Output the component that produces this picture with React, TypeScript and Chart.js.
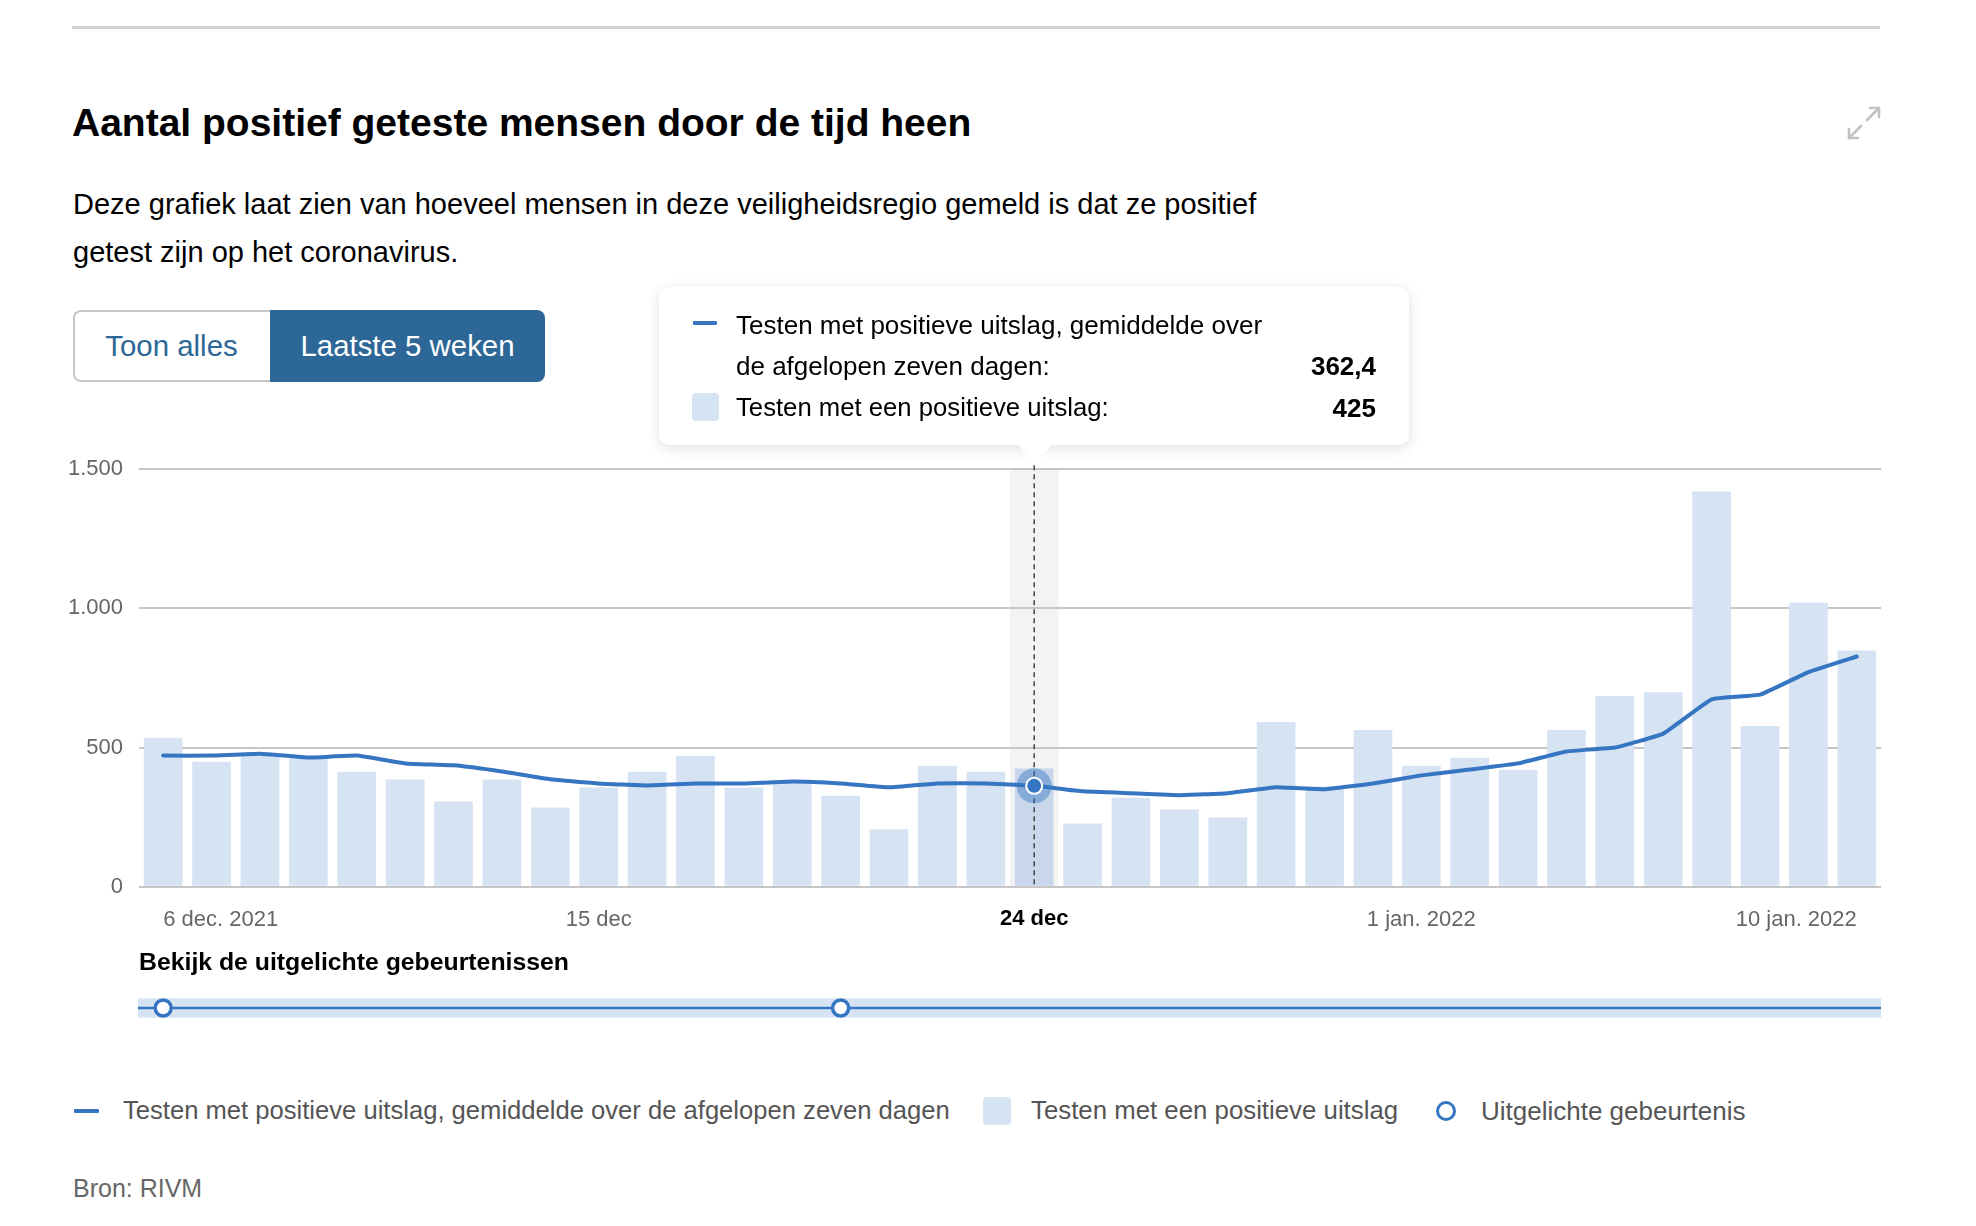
import React, { useEffect, useRef } from 'react';
import { Chart, registerables } from 'chart.js';

Chart.register(...registerables);

// ---------- data ----------
const categories = [
  '6 dec', '7 dec', '8 dec', '9 dec', '10 dec', '11 dec', '12 dec', '13 dec', '14 dec', '15 dec',
  '16 dec', '17 dec', '18 dec', '19 dec', '20 dec', '21 dec', '22 dec', '23 dec', '24 dec', '25 dec',
  '26 dec', '27 dec', '28 dec', '29 dec', '30 dec', '31 dec', '1 jan', '2 jan', '3 jan', '4 jan',
  '5 jan', '6 jan', '7 jan', '8 jan', '9 jan', '10 jan',
];

const positives = [
  535, 449, 475, 462, 413, 385, 306, 385, 285, 356,
  413, 470, 356, 375, 327, 206, 435, 413, 425, 227,
  320, 277, 249, 592, 360, 563, 435, 463, 420, 563,
  685, 699, 1420, 577, 1020, 849,
];

const averages = [
  471, 471, 478, 464, 471, 443, 436, 414, 386, 371,
  364, 371, 371, 378, 371, 357, 371, 371, 362.4, 343,
  336, 329, 336, 357, 350, 371, 400, 421, 443, 486,
  500, 550, 673, 690, 771, 827,
];

const xTickIndices = [0, 9, 18, 26, 35];
const xTickTexts = ['6 dec. 2021', '15 dec', '24 dec', '1 jan. 2022', '10 jan. 2022'];
const yTickValues = [0, 500, 1000, 1500];
const selectedIndex = 18;
const eventIndices = [0, 14];

const lineLabel = 'Testen met positieve uitslag, gemiddelde over de afgelopen zeven dagen';
const barLabel = 'Testen met een positieve uitslag';
const eventLabel = 'Uitgelichte gebeurtenis';

// ---------- styles ----------
const FONT = "'Liberation Sans Narrow', 'Liberation Sans', Arial, sans-serif";
const LINE_BLUE = '#3575c2';
const BAR_BLUE = '#d6e3f3';
const BAR_SEL = '#c8d7eb';
const GRID = '#c6c6c6';
const TICK = '#666666';

const fmtNum = (v: number) => {
  const s = Math.abs(v) >= 1000
    ? `${Math.floor(v / 1000)}.${String(Math.round(v % 1000)).padStart(3, '0')}`
    : String(v);
  return s;
};
const fmtDec = (v: number) => (Number.isInteger(v) ? String(v) : v.toFixed(1).replace('.', ','));

const CANVAS_TOP = 440;

function Txt(props: {
  x: number; baseline: number; size: number; weight?: number; color?: string;
  align?: 'left' | 'right' | 'center'; children: React.ReactNode;
}) {
  const { x, baseline, size, weight = 400, color = '#000', align = 'left', children } = props;
  const top = baseline - 0.8465 * size;
  const W = 1400;
  const left = align === 'left' ? x : align === 'right' ? x - W : x - W / 2;
  return (
    <div
      style={{
        position: 'absolute', left, top, width: W, fontFamily: FONT, fontSize: size,
        lineHeight: `${size}px`, fontWeight: weight, color, textAlign: align, whiteSpace: 'nowrap',
      }}
    >
      {children}
    </div>
  );
}

const overlayPlugin = {
  id: 'overlay',
  beforeDraw(chart: any) {
    const { ctx, chartArea, scales } = chart;
    const x = scales.x;
    const cx = x.getPixelForValue(selectedIndex);
    const w = x.getPixelForValue(1) - x.getPixelForValue(0);
    ctx.save();
    ctx.fillStyle = '#f3f3f3';
    ctx.fillRect(cx - w / 2, chartArea.top, w, chartArea.bottom - chartArea.top);
    ctx.restore();
  },
  afterDatasetsDraw(chart: any) {
    const { ctx, chartArea } = chart;
    const meta = chart.getDatasetMeta(0);
    const pt = meta.data[selectedIndex];
    ctx.save();
    ctx.strokeStyle = '#444';
    ctx.lineWidth = 1.5;
    ctx.setLineDash([5, 4]);
    ctx.beginPath();
    ctx.moveTo(pt.x, chartArea.top - 4);
    ctx.lineTo(pt.x, chartArea.bottom);
    ctx.stroke();
    ctx.setLineDash([]);
    ctx.fillStyle = 'rgba(53,117,194,0.45)';
    ctx.beginPath();
    ctx.arc(pt.x, pt.y, 17.5, 0, Math.PI * 2);
    ctx.fill();
    ctx.fillStyle = LINE_BLUE;
    ctx.strokeStyle = '#fff';
    ctx.lineWidth = 2;
    ctx.beginPath();
    ctx.arc(pt.x, pt.y, 8, 0, Math.PI * 2);
    ctx.fill();
    ctx.stroke();
    ctx.restore();
  },
  afterDraw(chart: any) {
    const { ctx, chartArea, scales } = chart;
    const x = scales.x;
    ctx.save();
    const cx = x.getPixelForValue(selectedIndex);
    ctx.font = `bold 22px ${FONT}`;
    ctx.textAlign = 'center';
    ctx.textBaseline = 'alphabetic';
    const label = xTickTexts[xTickIndices.indexOf(selectedIndex)];
    const tw = ctx.measureText(label).width;
    ctx.fillStyle = '#fff';
    ctx.fillRect(cx - tw / 2 - 6, chartArea.bottom + 8, tw + 12, 34);
    ctx.fillStyle = '#000';
    ctx.fillText(label, cx, 924.5 - CANVAS_TOP);

    const bandTop = 998.3 - CANVAS_TOP;
    const bandH = 19.4;
    ctx.fillStyle = BAR_BLUE;
    ctx.fillRect(chartArea.left - 1, bandTop, chartArea.right - chartArea.left + 1, bandH);
    ctx.strokeStyle = LINE_BLUE;
    ctx.lineWidth = 2.5;
    ctx.beginPath();
    ctx.moveTo(chartArea.left - 1, bandTop + bandH / 2);
    ctx.lineTo(chartArea.right, bandTop + bandH / 2);
    ctx.stroke();
    eventIndices.forEach((idx) => {
      const ex = x.getPixelForValue(idx);
      ctx.fillStyle = '#fff';
      ctx.strokeStyle = LINE_BLUE;
      ctx.lineWidth = 3.5;
      ctx.beginPath();
      ctx.arc(ex, bandTop + bandH / 2, 8, 0, Math.PI * 2);
      ctx.fill();
      ctx.stroke();
    });
    ctx.restore();
  },
};

function ExpandIcon() {
  return (
    <svg
      width={34} height={34} viewBox="0 0 34 34"
      style={{ position: 'absolute', left: 1847, top: 106 }}
    >
      <g stroke="#c2c2c2" strokeWidth={2.6} fill="none" strokeLinecap="round" strokeLinejoin="round">
        <path d="M32 2 L20 14" />
        <path d="M23 2 H32 V11" />
        <path d="M2 32 L14 20" />
        <path d="M2 23 V32 H11" />
      </g>
    </svg>
  );
}

export default function App() {
  const canvasRef = useRef<HTMLCanvasElement | null>(null);

  useEffect(() => {
    const canvas = canvasRef.current;
    if (!canvas) return;
    const chart = new Chart(canvas, {
      type: 'bar',
      data: {
        labels: categories,
        datasets: [
          {
            type: 'line',
            label: lineLabel,
            data: averages,
            borderColor: LINE_BLUE,
            borderWidth: 4,
            pointRadius: 0,
            tension: 0.1,
            borderJoinStyle: 'round',
            borderCapStyle: 'round',
            order: 0,
          } as any,
          {
            type: 'bar',
            label: barLabel,
            data: positives,
            backgroundColor: positives.map((_, i) => (i === selectedIndex ? BAR_SEL : BAR_BLUE)),
            categoryPercentage: 1,
            barPercentage: 0.8,
            order: 1,
          } as any,
        ],
      },
      options: {
        animation: false,
        responsive: false,
        maintainAspectRatio: false,
        events: [],
        layout: { padding: { left: 0, right: 95, top: 26.7, bottom: 0 } },
        plugins: { legend: { display: false }, tooltip: { enabled: false } },
        scales: {
          x: {
            offset: true,
            grid: { display: false, drawTicks: false },
            border: { display: false },
            ticks: {
              autoSkip: false,
              maxRotation: 0,
              minRotation: 0,
              align: 'inner',
              padding: 20,
              color: TICK,
              font: { family: FONT, size: 22 },
              callback: (_v: any, i: number) => {
                const k = xTickIndices.indexOf(i);
                return k >= 0 && i !== selectedIndex ? xTickTexts[k] : '';
              },
            },
            afterFit: (axis: any) => { axis.height = 600 - 446.7; },
          },
          y: {
            min: 0,
            max: 1500,
            afterBuildTicks: (axis: any) => { axis.ticks = yTickValues.map((v) => ({ value: v })); },
            ticks: {
              padding: 16,
              color: TICK,
              font: { family: FONT, size: 22 },
              callback: (v: any) => fmtNum(Number(v)),
            },
            grid: { color: GRID, lineWidth: 2, drawTicks: false, tickLength: 0 },
            border: { display: false },
            afterFit: (axis: any) => { axis.width = 139; },
          },
        },
      } as any,
      plugins: [overlayPlugin],
    });
    return () => chart.destroy();
  }, []);

  return (
    <div style={{ position: 'absolute', left: 0, top: 0, width: 1976, height: 1226, background: '#fff', overflow: 'hidden' }}>
      <div style={{ position: 'absolute', left: 72, top: 26, width: 1808, height: 3, background: '#d2d2d2' }} />

      <Txt x={72} baseline={136} size={39} weight={700}>Aantal positief geteste mensen door de tijd heen</Txt>
      <ExpandIcon />

      <Txt x={73} baseline={215} size={29}>
        Deze grafiek laat zien van hoeveel mensen in deze veiligheidsregio gemeld is dat ze positief
      </Txt>
      <Txt x={73} baseline={263} size={29}>getest zijn op het coronavirus.</Txt>

      <div style={{
        position: 'absolute', left: 73, top: 310, width: 197, height: 72, boxSizing: 'border-box',
        border: '2px solid #c6c6c6', borderRight: 'none', borderRadius: '8px 0 0 8px', background: '#fff',
      }} />
      <Txt x={171.5} baseline={356} size={29.4} color="#2c6797" align="center">Toon alles</Txt>
      <div style={{
        position: 'absolute', left: 270, top: 310, width: 275, height: 72, background: '#2c6797',
        borderRadius: '0 8px 8px 0',
      }} />
      <Txt x={407.5} baseline={356} size={29.4} color="#fff" align="center">Laatste 5 weken</Txt>

      <canvas
        ref={canvasRef}
        width={1976}
        height={600}
        style={{ position: 'absolute', left: 0, top: CANVAS_TOP, width: 1976, height: 600 }}
      />

      <div style={{
        position: 'absolute', left: 659, top: 287, width: 750, height: 158, background: '#fff',
        borderRadius: 10, boxShadow: '0 3px 14px rgba(0,0,0,0.12)',
      }} />
      <svg width={40} height={20} style={{ position: 'absolute', left: 1015, top: 444 }}>
        <path d="M2 0 L20 18 L38 0 Z" fill="#fff" />
      </svg>
      <div style={{ position: 'absolute', left: 693, top: 321, width: 24, height: 4, background: LINE_BLUE, borderRadius: 1 }} />
      <Txt x={736} baseline={334} size={26}>Testen met positieve uitslag, gemiddelde over</Txt>
      <Txt x={736} baseline={375} size={26}>de afgelopen zeven dagen:</Txt>
      <Txt x={1376} baseline={375} size={26} weight={700} align="right">{fmtDec(averages[selectedIndex])}</Txt>
      <div style={{ position: 'absolute', left: 692, top: 393, width: 27, height: 28, background: BAR_BLUE, borderRadius: 4 }} />
      <Txt x={736} baseline={417} size={25.7}>{barLabel}:</Txt>
      <Txt x={1376} baseline={417} size={26} weight={700} align="right">{fmtDec(positives[selectedIndex])}</Txt>

      <Txt x={139} baseline={971} size={24.8} weight={700}>Bekijk de uitgelichte gebeurtenissen</Txt>

      <div style={{ position: 'absolute', left: 74, top: 1109, width: 25, height: 4, background: LINE_BLUE, borderRadius: 1 }} />
      <Txt x={123} baseline={1120} size={25.6} color="#555">{lineLabel}</Txt>
      <div style={{ position: 'absolute', left: 983, top: 1097, width: 28, height: 28, background: BAR_BLUE, borderRadius: 4 }} />
      <Txt x={1031} baseline={1120} size={25.8} color="#555">{barLabel}</Txt>
      <div style={{
        position: 'absolute', left: 1436, top: 1101, width: 20, height: 20, boxSizing: 'border-box',
        border: `3.5px solid ${LINE_BLUE}`, borderRadius: '50%',
      }} />
      <Txt x={1481} baseline={1120} size={26} color="#555">{eventLabel}</Txt>

      <Txt x={73} baseline={1197} size={25} color="#666">Bron: RIVM</Txt>
    </div>
  );
}
